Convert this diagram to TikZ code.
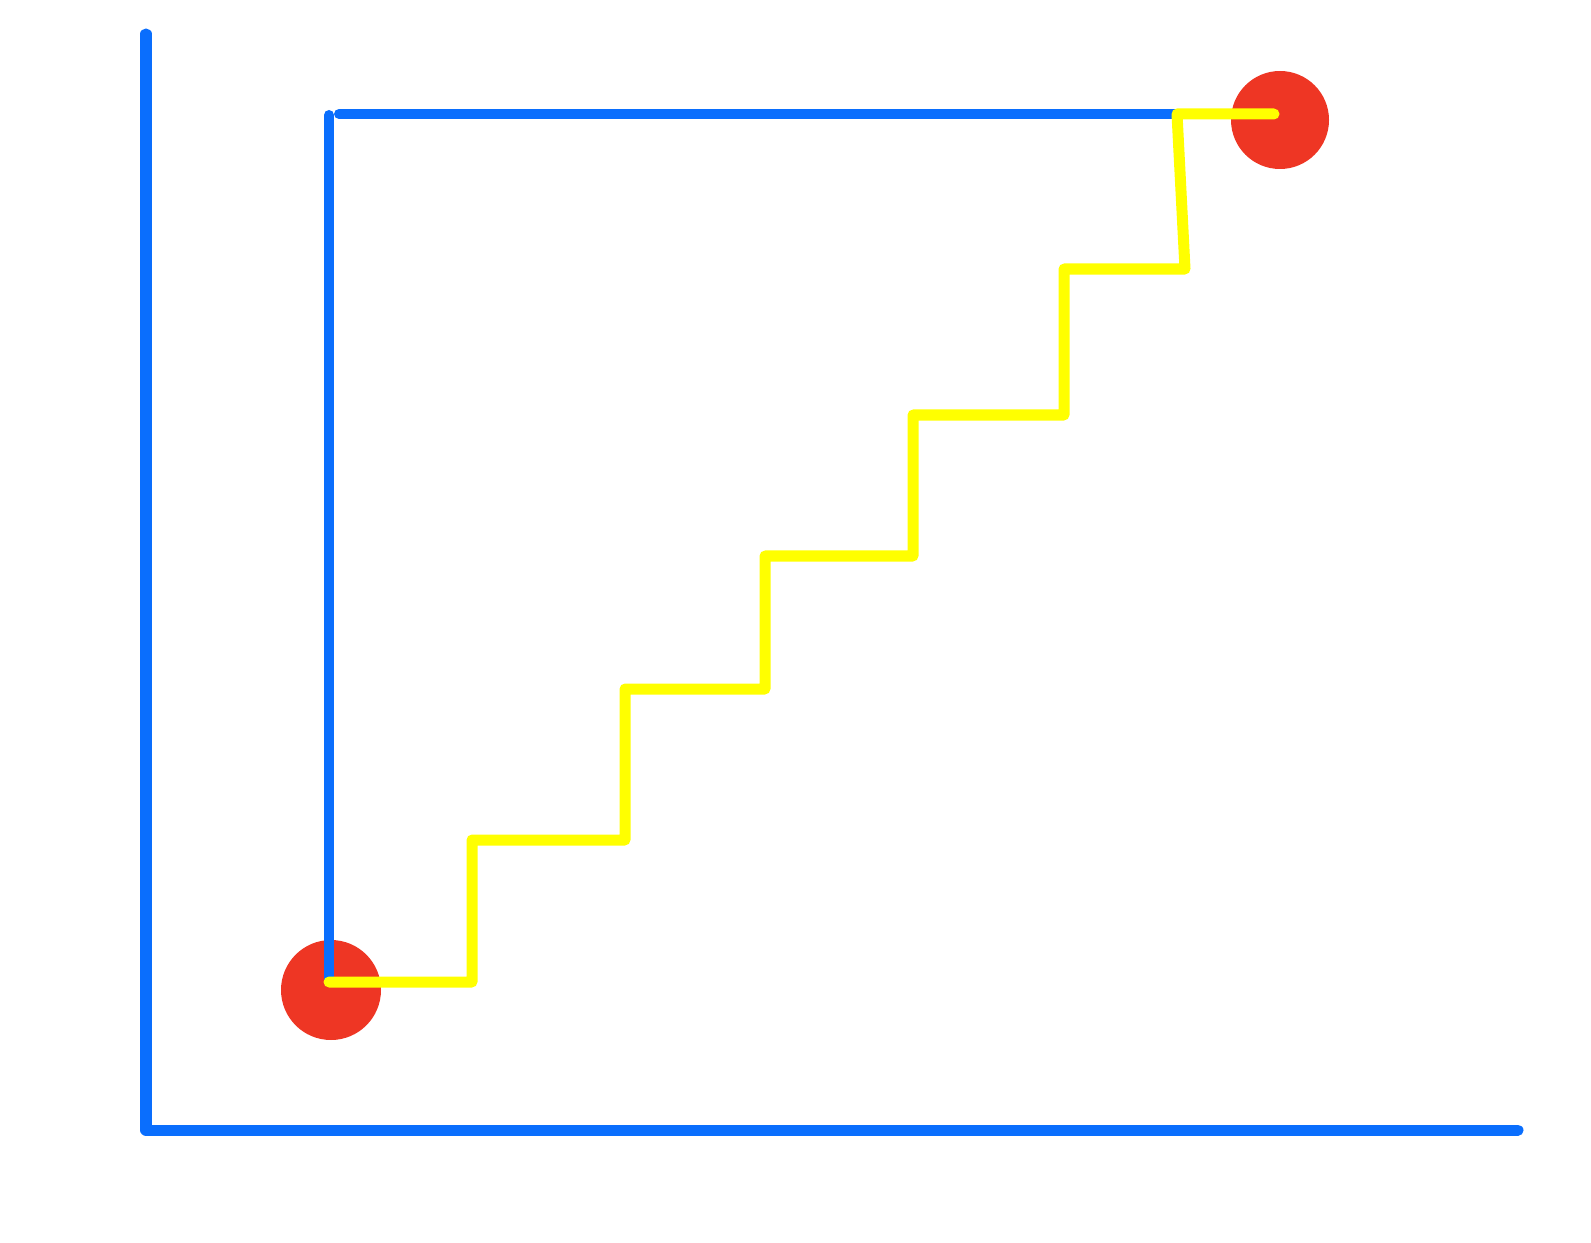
\documentclass[tikz,border=0pt]{standalone}
\definecolor{axblue}{RGB}{10,110,253}
\definecolor{dotred}{RGB}{238,54,36}
\definecolor{stairyellow}{RGB}{255,255,0}
\begin{document}
\begin{tikzpicture}[x=0.01cm,y=-0.01cm,
  blueline/.style={draw=axblue,line width=0.11cm,line cap=round,line join=round},
  innerblue/.style={draw=axblue,line width=0.10cm,line cap=round,line join=round},
  yellowline/.style={draw=stairyellow,line width=0.11cm,line cap=round,line join=round},
  reddot/.style={fill=dotred}]
\useasboundingbox (0,0) rectangle (1591,1243);
% coordinates
\coordinate (ytop) at (146,34);
\coordinate (origin) at (146,1130);
\coordinate (xend) at (1518,1130);
\coordinate (vtop) at (329,115);
\coordinate (vbot) at (329,982);
\coordinate (htop) at (339,114);
\coordinate (hend) at (1177,114);
% red dots
\fill[reddot] (331,990) circle (50);
\fill[reddot] (1280,120) circle (49);
% blue lines
\draw[blueline] (ytop) -- (origin) -- (xend);
\draw[innerblue] (vtop) -- (vbot);
\draw[innerblue] (htop) -- (hend);
% yellow staircase
\draw[yellowline] (vbot) -- (472,982) -- (472,840) -- (625,840) -- (625,689)
  -- (765,689) -- (765,556) -- (913,556) -- (913,415) -- (1064,415)
  -- (1064,269) -- (1185,269) -- (hend) -- (1274,114);
\end{tikzpicture}
\end{document}
